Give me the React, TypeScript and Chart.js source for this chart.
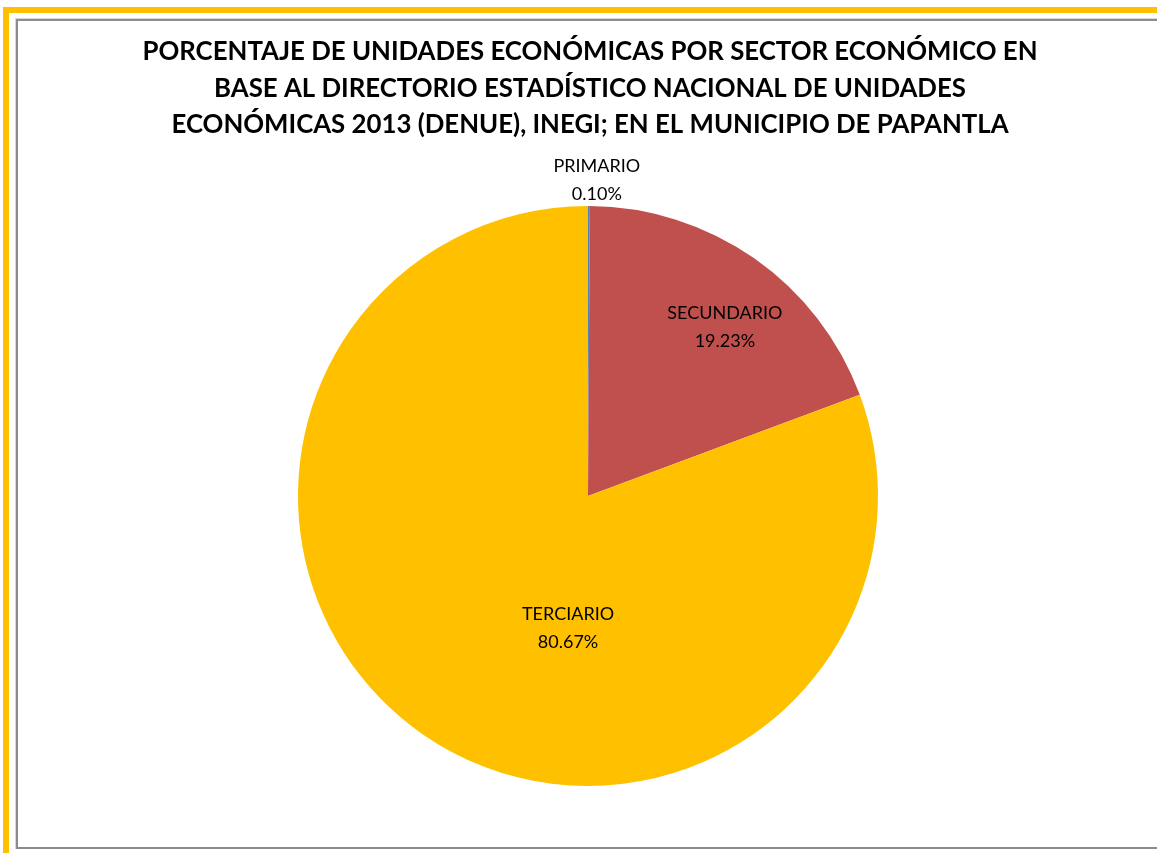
import React, { useEffect, useRef } from "react";
import { Chart, registerables } from "chart.js";

Chart.register(...registerables);

const titleLines = [
  "PORCENTAJE DE UNIDADES ECONÓMICAS POR SECTOR ECONÓMICO EN",
  "BASE AL DIRECTORIO ESTADÍSTICO NACIONAL DE UNIDADES",
  "ECONÓMICAS 2013 (DENUE), INEGI; EN EL MUNICIPIO DE PAPANTLA",
];
const sectors = ["PRIMARIO", "SECUNDARIO", "TERCIARIO"];
const percents = [0.1, 19.23, 80.67];
const colors = ["#4F81BD", "#C0504D", "#FFC000"];
// label placement: [angle offset from top (deg, clockwise), radius fraction]
const labelPlacement: [number, number][] = [
  [1.6, 1.09],
  [39, 0.75],
  [188.6, 0.46],
];

const FONT = "Lato, 'Open Sans', sans-serif";

const titlePlugin = {
  id: "wideTitle",
  afterDraw(chart: any) {
    const ctx = chart.ctx;
    ctx.save();
    ctx.font = `bold 25.8px ${FONT}`;
    ctx.fillStyle = "#000";
    ctx.textAlign = "center";
    ctx.textBaseline = "middle";
    const cx = (chart.chartArea.left + chart.chartArea.right) / 2 + 2;
    titleLines.forEach((line, i) => {
      ctx.fillText(line, cx, 52 + i * 36.5);
    });
    ctx.restore();
  },
};

const labelPlugin = {
  id: "sliceLabels",
  afterDatasetsDraw(chart: any) {
    const ctx = chart.ctx;
    const meta = chart.getDatasetMeta(0);
    ctx.save();
    ctx.font = `18px ${FONT}`;
    ctx.fillStyle = "#000";
    ctx.textAlign = "center";
    ctx.textBaseline = "middle";
    meta.data.forEach((arc: any, i: number) => {
      const [deg, frac] = labelPlacement[i];
      const a = (deg * Math.PI) / 180;
      const r = arc.outerRadius * frac;
      const x = arc.x + r * Math.sin(a);
      const y = arc.y - r * Math.cos(a);
      ctx.fillText(sectors[i], x, y - 14);
      ctx.fillText(percents[i].toFixed(2) + "%", x, y + 14);
    });
    ctx.restore();
  },
};

export default function App() {
  const ref = useRef<HTMLCanvasElement>(null);
  useEffect(() => {
    if (!ref.current) return;
    const chart = new Chart(ref.current, {
      type: "pie",
      data: {
        labels: sectors,
        datasets: [
          {
            data: percents,
            backgroundColor: colors,
            borderWidth: 0,
          },
        ],
      },
      options: {
        animation: false,
        responsive: false,
        maintainAspectRatio: false,
        layout: { padding: { top: 206, left: 200, right: 181, bottom: 67 } },
        plugins: {
          legend: { display: false },
          tooltip: { enabled: false },
          title: { display: false },
        },
      },
      plugins: [labelPlugin, titlePlugin],
    });
    return () => chart.destroy();
  }, []);

  return (
    <div style={{ position: "fixed", left: 0, top: 0, width: 1157, height: 853, background: "#fff", overflow: "hidden" }}>
      <div style={{ position: "absolute", left: 3, top: 7, width: 1154, height: 6, background: "#FFC000" }} />
      <div style={{ position: "absolute", left: 3, top: 7, width: 6, height: 846, background: "#FFC000" }} />
      <div
        style={{
          position: "absolute",
          left: 15,
          top: 18,
          width: 1160,
          height: 831,
          borderTop: "1px solid #D9D9D9",
          borderLeft: "1px solid #D9D9D9",
          borderBottom: "1px solid #D9D9D9",
          boxSizing: "border-box",
        }}
      />
      <div
        style={{
          position: "absolute",
          left: 16,
          top: 19,
          width: 1160,
          height: 830,
          borderTop: "2px solid #8C8C8C",
          borderLeft: "2px solid #8C8C8C",
          borderBottom: "2px solid #8C8C8C",
          boxSizing: "border-box",
        }}
      />
      <canvas ref={ref} width={1157} height={853} style={{ position: "absolute", left: 0, top: 0 }} />
    </div>
  );
}
